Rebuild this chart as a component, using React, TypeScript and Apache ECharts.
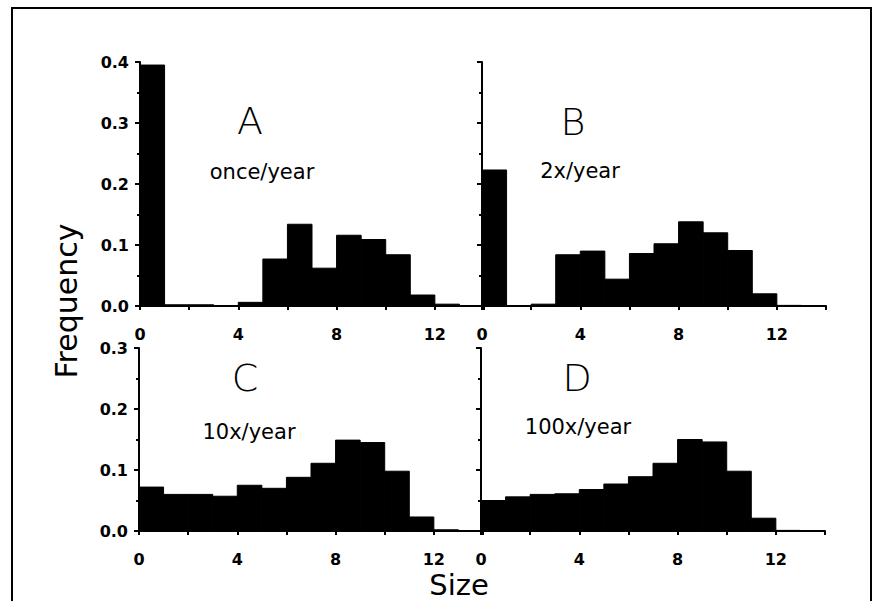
import React, { useEffect, useRef } from "react";
import * as echarts from "echarts";

const binStarts = [0, 1, 2, 3, 4, 5, 6, 7, 8, 9, 10, 11, 12, 13];
const freqA = [0.395, 0.002, 0.002, 0, 0.006, 0.077, 0.134, 0.062, 0.116, 0.109, 0.084, 0.018, 0.003, 0];
const freqB = [0.223, 0, 0.003, 0.084, 0.09, 0.044, 0.086, 0.102, 0.138, 0.12, 0.091, 0.02, 0.001, 0];
const freqC = [0.072, 0.06, 0.06, 0.057, 0.075, 0.07, 0.088, 0.111, 0.149, 0.145, 0.098, 0.023, 0.002, 0];
const freqD = [0.05, 0.056, 0.06, 0.061, 0.068, 0.077, 0.089, 0.111, 0.15, 0.146, 0.098, 0.021, 0.001, 0];
const xTickLabels = ["0", "4", "8", "12"];
const panelLetters = ["A", "B", "C", "D"];
const panelRates = ["once/year", "2x/year", "10x/year", "100x/year"];
const yMaxTop = 0.4;
const yMaxBottom = 0.3;

const FONT = "DejaVu Sans";

function xAxisCfg(gridIndex: number) {
  return {
    type: "value",
    gridIndex,
    min: 0,
    max: 14,
    interval: 2,
    axisLine: { show: true, lineStyle: { color: "#000", width: 2 } },
    axisTick: { show: true, length: 4, lineStyle: { color: "#000", width: 2 } },
    splitLine: { show: false },
    axisLabel: {
      formatter: (v: number) => (xTickLabels.includes(String(v)) ? String(v) : ""),
      color: "#000",
      fontWeight: "bold",
      fontSize: 16,
      fontFamily: FONT,
      margin: 20,
    },
  };
}

function yAxisCfg(gridIndex: number, max: number, showLabels: boolean) {
  return {
    type: "value",
    gridIndex,
    min: 0,
    max,
    interval: 0.1,
    axisLine: { show: true, lineStyle: { color: "#000", width: 2 } },
    axisTick: { show: true, length: 5, lineStyle: { color: "#000", width: 2 } },
    minorTick: { show: true, splitNumber: 2, length: 3, lineStyle: { color: "#000", width: 2 } },
    splitLine: { show: false },
    axisLabel: {
      show: showLabels,
      formatter: (v: number) => v.toFixed(1),
      color: "#000",
      fontWeight: "bold",
      fontSize: 16,
      fontFamily: FONT,
      margin: 11,
    },
  };
}

function histSeries(idx: number, values: number[]) {
  return {
    type: "custom",
    xAxisIndex: idx,
    yAxisIndex: idx,
    data: binStarts.map((b, i) => [b, values[i]]),
    encode: { x: 0, y: 1 },
    renderItem: (params: any, api: any) => {
      const x0 = api.value(0);
      const v = api.value(1);
      const p1 = api.coord([x0, v]);
      const p0 = api.coord([x0 + 1, 0]);
      return {
        type: "rect",
        shape: { x: p1[0], y: p1[1], width: p0[0] - p1[0], height: p0[1] - p1[1] },
        style: { fill: "#000", stroke: "#000", lineWidth: 1 },
      };
    },
  };
}

const letterPos = [
  [250, 121],
  [573, 122],
  [245, 378],
  [577, 378],
];
const ratePos = [
  [262, 172],
  [580, 171],
  [249, 432],
  [578, 427],
];

export default function App() {
  const ref = useRef<HTMLDivElement>(null);
  useEffect(() => {
    if (!ref.current) return;
    const chart = echarts.init(ref.current, undefined, { renderer: "svg" });
    const graphics: any[] = [
      {
        type: "rect",
        z: 0,
        shape: { x: 12, y: 8, width: 859, height: 700 },
        style: { fill: "none", stroke: "#000", lineWidth: 2 },
      },
      {
        type: "text",
        x: 66,
        y: 301,
        rotation: Math.PI / 2,
        style: {
          text: "Frequency",
          fontSize: 30,
          fontFamily: FONT,
          fill: "#000",
          textAlign: "center",
          textVerticalAlign: "middle",
        },
      },
      {
        type: "text",
        x: 459,
        y: 585,
        style: {
          text: "Size",
          fontSize: 29,
          fontFamily: FONT,
          fill: "#000",
          textAlign: "center",
          textVerticalAlign: "middle",
        },
      },
    ];
    panelLetters.forEach((l, i) => {
      graphics.push({
        type: "text",
        x: letterPos[i][0],
        y: letterPos[i][1],
        style: {
          text: l,
          fontSize: 38,
          fontWeight: 300,
          fontFamily: FONT,
          fill: "#000",
          textAlign: "center",
          textVerticalAlign: "middle",
        },
      });
      graphics.push({
        type: "text",
        x: ratePos[i][0],
        y: ratePos[i][1],
        style: {
          text: panelRates[i],
          fontSize: 21,
          fontFamily: FONT,
          fill: "#000",
          textAlign: "center",
          textVerticalAlign: "middle",
        },
      });
    });

    chart.setOption({
      animation: false,
      backgroundColor: "#fff",
      grid: [
        { left: 140, top: 62, width: 344, height: 244 },
        { left: 482, top: 62, width: 344, height: 244 },
        { left: 139, top: 348, width: 344, height: 183 },
        { left: 481, top: 348, width: 344, height: 183 },
      ],
      xAxis: [xAxisCfg(0), xAxisCfg(1), xAxisCfg(2), xAxisCfg(3)],
      yAxis: [
        yAxisCfg(0, yMaxTop, true),
        yAxisCfg(1, yMaxTop, false),
        yAxisCfg(2, yMaxBottom, true),
        yAxisCfg(3, yMaxBottom, false),
      ],
      series: [
        histSeries(0, freqA),
        histSeries(1, freqB),
        histSeries(2, freqC),
        histSeries(3, freqD),
      ],
      graphic: graphics,
    });
    return () => chart.dispose();
  }, []);
  return (
    <div
      ref={ref}
      style={{ position: "fixed", left: 0, top: 0, width: 873, height: 601, background: "#fff" }}
    />
  );
}
